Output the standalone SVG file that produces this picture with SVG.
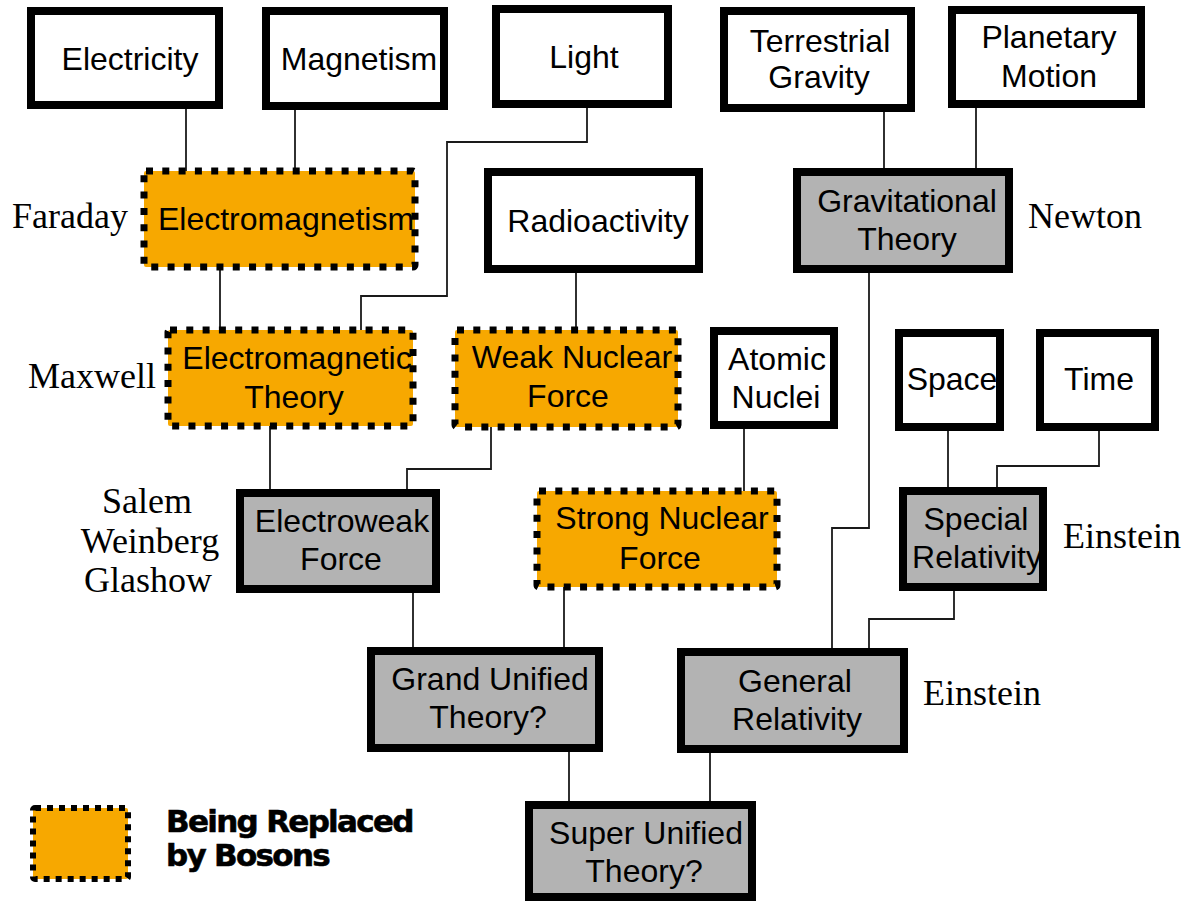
<svg xmlns="http://www.w3.org/2000/svg" width="1191" height="902" viewBox="0 0 1191 902">
<style>
.box{fill:#fff;stroke:#000;stroke-width:8}
.gray{fill:#b3b3b3;stroke:#000;stroke-width:8}
.boson{fill:#f7a800;stroke:#000;stroke-width:7;stroke-dasharray:7 9.3}
.t{font-family:"Liberation Sans",Arial,sans-serif;font-size:32px;fill:#000;text-anchor:middle}
.s{font-family:"Liberation Serif","Times New Roman",serif;font-size:36px;fill:#000}
.c{fill:none;stroke:#1a1a1a;stroke-width:1.8}
.leg{font-family:"DejaVu Sans",Verdana,sans-serif;font-weight:bold;font-size:31px;letter-spacing:-1.7px;fill:#000;stroke:#000;stroke-width:0.6}
</style>
<rect width="1191" height="902" fill="#fff"/>
<g id="connectors" class="c">
<path d="M186 109V171"/>
<path d="M295 110V171"/>
<path d="M587 108V142H447V296H361V330"/>
<path d="M220 267V330"/>
<path d="M576 273V330"/>
<path d="M884 112V172"/>
<path d="M976 108V172"/>
<path d="M869 273V528H832V652"/>
<path d="M270 426V493"/>
<path d="M491 427V469H407V493"/>
<path d="M744 429V491"/>
<path d="M948 431V491"/>
<path d="M1099 431V466H997V491"/>
<path d="M413 593V651"/>
<path d="M564 587V651"/>
<path d="M954 591V619H869V652"/>
<path d="M569 752V805"/>
<path d="M710 753V805"/>
</g>
<g id="electricity"><rect class="box" x="31" y="11" width="188" height="94"/><text class="t" x="130" y="70">Electricity</text></g>
<g id="magnetism"><rect class="box" x="266" y="11" width="178" height="95"/><text class="t" x="359" y="70">Magnetism</text></g>
<g id="light"><rect class="box" x="496" y="9" width="172" height="95"/><text class="t" x="584" y="68">Light</text></g>
<g id="terrestrial-gravity"><rect class="box" x="724" y="11" width="187" height="97"/><text class="t" x="820" y="52">Terrestrial</text><text class="t" x="819" y="88">Gravity</text></g>
<g id="planetary-motion"><rect class="box" x="952" y="10" width="189" height="94"/><text class="t" x="1049" y="48">Planetary</text><text class="t" x="1049" y="87">Motion</text></g>
<g id="electromagnetism"><rect class="boson" x="144" y="171" width="271" height="96" rx="2"/><text class="t" x="286" y="230">Electromagnetism</text></g>
<g id="radioactivity"><rect class="box" x="488" y="172" width="211" height="97"/><text class="t" x="598" y="232">Radioactivity</text></g>
<g id="gravitational-theory"><rect class="gray" x="797" y="172" width="212" height="97"/><text class="t" x="907" y="212">Gravitational</text><text class="t" x="907" y="250">Theory</text></g>
<g id="electromagnetic-theory"><rect class="boson" x="168" y="330" width="245" height="96" rx="2"/><text class="t" x="297" y="369">Electromagnetic</text><text class="t" x="294" y="408">Theory</text></g>
<g id="weak-nuclear-force"><rect class="boson" x="455" y="330" width="223" height="97" rx="2"/><text class="t" x="572" y="368">Weak Nuclear</text><text class="t" x="568" y="407">Force</text></g>
<g id="atomic-nuclei"><rect class="box" x="714" y="331" width="120" height="94"/><text class="t" x="777" y="370">Atomic</text><text class="t" x="776" y="408">Nuclei</text></g>
<g id="space"><rect class="box" x="899" y="333" width="101" height="94"/><text class="t" x="952" y="390">Space</text></g>
<g id="time"><rect class="box" x="1040" y="333" width="115" height="94"/><text class="t" x="1099" y="390">Time</text></g>
<g id="electroweak-force"><rect class="gray" x="240" y="493" width="196" height="96"/><text class="t" x="342" y="532">Electroweak</text><text class="t" x="341" y="570">Force</text></g>
<g id="strong-nuclear-force"><rect class="boson" x="537" y="491" width="240" height="96" rx="2"/><text class="t" x="662" y="529">Strong Nuclear</text><text class="t" x="660" y="569">Force</text></g>
<g id="special-relativity"><rect class="gray" x="903" y="491" width="140" height="96"/><text class="t" x="976" y="530">Special</text><text class="t" x="977" y="568">Relativity</text></g>
<g id="grand-unified-theory"><rect class="gray" x="371" y="651" width="228" height="97"/><text class="t" x="490" y="690">Grand Unified</text><text class="t" x="488" y="728">Theory?</text></g>
<g id="general-relativity"><rect class="gray" x="681" y="652" width="223" height="97"/><text class="t" x="795" y="692">General</text><text class="t" x="797" y="730">Relativity</text></g>
<g id="super-unified-theory"><rect class="gray" x="529" y="805" width="223" height="92"/><text class="t" x="646" y="844">Super Unified</text><text class="t" x="644" y="882">Theory?</text></g>
<g id="labels">
<text class="s" x="12" y="228">Faraday</text>
<text class="s" x="28" y="388">Maxwell</text>
<text class="s" x="147" y="513" text-anchor="middle">Salem</text>
<text class="s" x="150" y="553" text-anchor="middle">Weinberg</text>
<text class="s" x="148" y="592" text-anchor="middle">Glashow</text>
<text class="s" x="1028" y="228">Newton</text>
<text class="s" x="1063" y="548">Einstein</text>
<text class="s" x="923" y="705">Einstein</text>
</g>
<g id="legend">
<rect class="boson" x="33" y="808" width="95" height="71" rx="2" style="stroke-width:6;stroke-dasharray:6 6"/>
<text class="leg" x="166" y="832">Being Replaced</text>
<text class="leg" x="166" y="866">by Bosons</text>
</g>
</svg>
